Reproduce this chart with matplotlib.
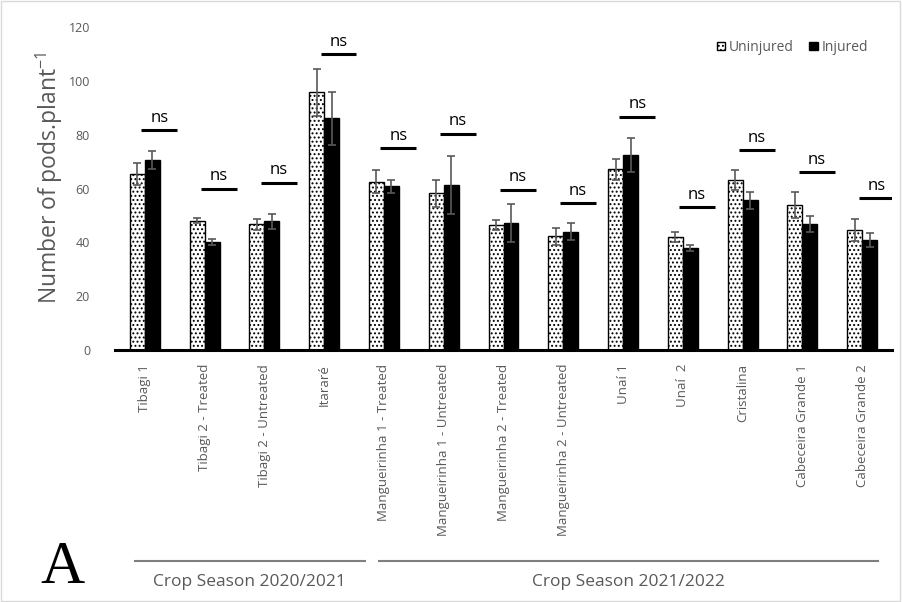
import matplotlib
matplotlib.use("Agg")
from matplotlib import pyplot as plt
from matplotlib.patches import Rectangle
import matplotlib.transforms as mtransforms
import numpy as np

plt.rcParams['font.family'] = ['Open Sans', 'DejaVu Sans']
plt.rcParams['hatch.linewidth'] = 0.9

sites = ["Tibagi 1", "Tibagi 2 - Treated", "Tibagi 2 - Untreated", "Itararé",
         "Mangueirinha 1 - Treated", "Mangueirinha 1 - Untreated",
         "Mangueirinha 2 - Treated", "Mangueirinha 2 - Untreated",
         "Unaí 1", "Unaí  2", "Cristalina", "Cabeceira Grande 1",
         "Cabeceira Grande 2"]
uninjured = [65.3, 48.1, 46.7, 95.8, 62.6, 58.2, 46.3, 42.3, 67.1, 42.0, 63.2, 53.8, 44.6]
uninjured_err = [4.1, 1.0, 2.0, 8.7, 4.2, 5.0, 1.9, 3.2, 4.0, 1.9, 3.8, 4.8, 4.1]
injured = [70.6, 40.1, 47.8, 86.1, 60.8, 61.3, 47.2, 44.0, 72.5, 37.8, 55.6, 46.7, 40.9]
injured_err = [3.3, 1.2, 2.8, 9.9, 2.5, 10.8, 7.0, 3.2, 6.4, 1.1, 3.1, 2.9, 2.6]
ns_level = [81.8, 60.0, 62.2, 109.8, 75.0, 80.4, 59.6, 54.6, 86.7, 53.0, 74.3, 66.2, 56.5]
seasons = ["Crop Season 2020/2021", "Crop Season 2021/2022"]
season_span = [(-0.165, 3.68), (3.92, 12.27)]

gray = '#595959'


def main():
    x = np.arange(len(sites))

    fig = plt.figure(figsize=(9.02, 6.02), dpi=100)
    ax = fig.add_axes([115 / 902, 1 - 350 / 602, 777 / 902, 323 / 602])

    w = 0.25
    ax.bar(x - w / 2, uninjured, w, color='white', edgecolor='black',
           hatch='....', linewidth=1.0, label='Uninjured', zorder=2)
    ax.bar(x + w / 2, injured, w, color='black', edgecolor='black',
           linewidth=1.0, label='Injured', zorder=2)
    ax.errorbar(x - w / 2, uninjured, yerr=uninjured_err, fmt='none',
                ecolor=gray, elinewidth=1.2, capsize=3, capthick=1.2, zorder=3)
    ax.errorbar(x + w / 2, injured, yerr=injured_err, fmt='none',
                ecolor=gray, elinewidth=1.2, capsize=3, capthick=1.2, zorder=3)

    # "ns" markers above each pair
    for xi, lv in zip(x, ns_level):
        ax.plot([xi - 0.06, xi + 0.54], [lv, lv], color='black', lw=2.2,
                solid_capstyle='butt')
        ax.text(xi + 0.24, lv + 1.6, 'ns', ha='center', va='bottom',
                fontsize=12, color='black')

    ax.set_xlim(-0.5, len(sites) - 0.5)
    ax.set_ylim(0, 120)
    ax.set_yticks(np.arange(0, 121, 20))
    ax.set_xticks(x)
    ax.set_xticklabels(sites, rotation=90, ha='center', va='top')
    ax.tick_params(axis='both', length=0, colors=gray)
    ax.tick_params(axis='y', pad=18, labelsize=9)
    ax.tick_params(axis='x', pad=10, labelsize=9.5)
    for s in ['top', 'right', 'left']:
        ax.spines[s].set_visible(False)
    ax.spines['bottom'].set_linewidth(2.2)
    ax.spines['bottom'].set_color('black')

    fig.text(49 / 902, 1 - 178 / 602, 'Number of pods.plant$^{\\mathregular{-1}}$',
             rotation=90, ha='center', va='center', fontsize=16.5, color=gray)

    leg = ax.legend(loc='upper right', bbox_to_anchor=(0.982, 0.99), ncol=2,
                    frameon=False, fontsize=10, handlelength=0.6,
                    handleheight=0.6, handletextpad=0.3, columnspacing=1.1,
                    borderpad=0.2)
    for t in leg.get_texts():
        t.set_color(gray)

    trans = mtransforms.blended_transform_factory(ax.transData, fig.transFigure)
    for name, (a, b) in zip(seasons, season_span):
        ax.plot([a, b], [1 - 561 / 602] * 2, transform=trans,
                color='#7f7f7f', lw=1.5, clip_on=False)
        ax.text((a + b) / 2, 1 - 582 / 602, name, transform=trans,
                ha='center', va='center', fontsize=12.5, color=gray)

    fig.text(62 / 902, 1 - 568 / 602, 'A', ha='center', va='center',
             fontsize=44, family='Liberation Serif', color='black')

    fig.patches.append(Rectangle((0.001, 0.001), 0.997, 0.997,
                                 transform=fig.transFigure, fill=False,
                                 edgecolor='#d9d9d9', lw=1))

    fig.savefig('out.png', dpi=100)


if __name__ == '__main__':
    main()
